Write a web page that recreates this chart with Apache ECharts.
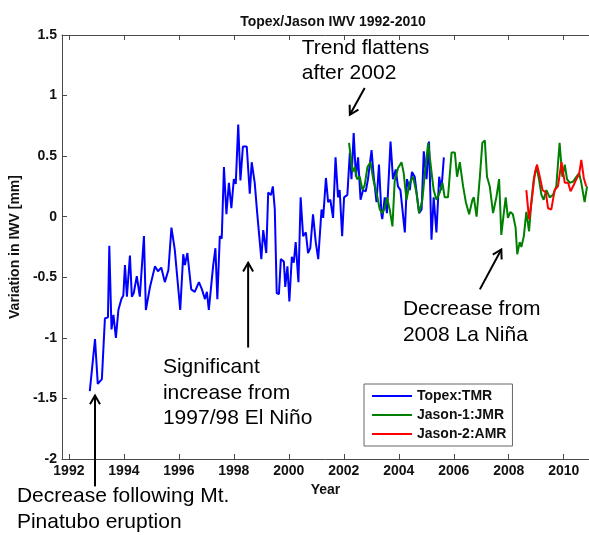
<!DOCTYPE html>
<html><head><meta charset="utf-8">
<script src="https://cdn.jsdelivr.net/npm/echarts@6/dist/echarts.min.js"></script>
<style>html,body{margin:0;padding:0;background:#fff}#c{width:589px;height:535px}</style>
</head><body><div id="c"></div>
<script>
// ---- data ----
const seriesNames = ['Topex:TMR', 'Jason-1:JMR', 'Jason-2:AMR'];

const topexYears = [1992.76,1992.95,1993.05,1993.2,1993.31,1993.42,1993.47,1993.55,1993.62,1993.71,
1993.8,1993.91,1993.98,1994.04,1994.11,1994.22,1994.29,1994.36,1994.47,1994.58,
1994.73,1994.8,1994.95,1995.13,1995.24,1995.36,1995.49,1995.62,1995.73,1995.85,
1996.05,1996.16,1996.22,1996.31,1996.45,1996.58,1996.73,1996.84,1996.95,1997.02,
1997.09,1997.25,1997.33,1997.4,1997.49,1997.56,1997.64,1997.73,1997.82,1997.91,
1998.0,1998.07,1998.16,1998.24,1998.33,1998.47,1998.58,1998.65,1998.76,1998.85,
1999.0,1999.07,1999.18,1999.25,1999.35,1999.42,1999.49,1999.56,1999.64,1999.71,
1999.82,1999.87,1999.95,2000.02,2000.11,2000.18,2000.25,2000.35,2000.43,2000.52,
2000.62,2000.7,2000.78,2000.88,2000.98,2001.07,2001.19,2001.25,2001.35,2001.43,
2001.51,2001.61,2001.7,2001.79,2001.85,2001.94,2002.01,2002.13,2002.22,2002.28,
2002.36,2002.44,2002.52,2002.61,2002.7,2002.8,2002.88,2003.01,2003.09,2003.19,
2003.28,2003.37,2003.4,2003.49,2003.57,2003.7,2003.79,2003.89,2003.97,2004.06,
2004.22,2004.3,2004.4,2004.48,2004.58,2004.67,2004.74,2004.83,2004.91,2005.01,
2005.1,2005.19,2005.27,2005.37,2005.47,2005.55,2005.64];
const topexValues = [-1.44,-1.01,-1.38,-1.34,-0.84,-0.83,-0.24,-0.93,-0.81,-1.0,
-0.77,-0.68,-0.65,-0.40,-0.66,-0.32,-0.66,-0.63,-0.49,-0.66,
-0.16,-0.77,-0.58,-0.41,-0.45,-0.42,-0.54,-0.44,-0.09,-0.27,
-0.77,-0.31,-0.40,-0.30,-0.60,-0.62,-0.54,-0.60,-0.68,-0.62,
-0.77,-0.40,-0.26,-0.68,-0.16,-0.18,0.41,0.02,0.28,0.07,
0.31,0.27,0.76,0.30,0.58,0.58,0.19,0.45,0.28,0.03,
-0.35,-0.11,-0.30,0.20,0.18,0.25,0.06,-0.63,-0.64,-0.35,
-0.37,-0.58,-0.41,-0.70,-0.33,-0.38,-0.21,-0.54,0.16,-0.16,
-0.13,-0.30,-0.26,0.02,-0.21,-0.35,0.06,-0.01,0.32,0.12,
0.14,-0.01,0.49,0.16,0.22,-0.16,0.16,0.18,0.53,0.31,
0.69,0.33,0.49,0.14,0.22,0.21,0.31,0.55,0.33,0.12,
0.43,0.02,-0.02,0.16,0.03,0.62,0.31,0.39,0.25,0.22,
-0.13,0.31,0.22,0.37,0.33,0.16,0.03,0.06,0.54,0.31,
0.62,-0.19,0.16,-0.13,0.33,0.22,0.49];

const jason1Years = [2002.19,2002.32,2002.4,2002.48,2002.58,2002.68,2002.76,2002.86,2002.97,2003.07,
2003.19,2003.31,2003.4,2003.49,2003.57,2003.67,2003.77,2003.85,2003.97,2004.1,
2004.18,2004.28,2004.4,2004.52,2004.64,2004.74,2004.86,2004.95,2005.07,2005.19,
2005.27,2005.37,2005.49,2005.59,2005.67,2005.79,2005.92,2006.04,2006.12,2006.22,
2006.34,2006.44,2006.56,2006.68,2006.73,2006.83,2006.95,2007.04,2007.13,2007.21,
2007.31,2007.43,2007.55,2007.65,2007.73,2007.82,2007.89,2007.97,2008.06,2008.15,
2008.25,2008.31,2008.4,2008.46,2008.55,2008.64,2008.74,2008.83,2008.91,2009.01,
2009.1,2009.19,2009.27,2009.37,2009.49,2009.61,2009.73,2009.85,2009.95,2010.04,
2010.12,2010.22,2010.34,2010.46,2010.56,2010.64,2010.76,2010.85];
const jason1Values = [0.61,0.37,0.41,0.31,0.33,0.22,0.26,0.41,0.45,0.31,
0.20,0.06,0.03,0.07,0.16,0.06,-0.08,0.29,0.40,0.45,
0.36,0.14,0.28,0.33,0.20,0.03,0.14,0.36,0.61,0.37,
0.22,0.14,0.20,0.28,0.16,0.16,0.53,0.53,0.33,0.45,
0.25,0.12,0.02,0.14,0.16,0.0,0.33,0.61,0.63,0.33,
0.25,0.03,0.16,0.31,-0.15,0.03,0.16,-0.01,0.04,0.02,
-0.09,-0.31,-0.21,-0.25,-0.16,0.04,-0.12,0.14,0.31,0.41,
0.31,0.18,0.14,0.22,0.16,0.18,0.25,0.61,0.33,0.43,
0.31,0.28,0.29,0.33,0.36,0.28,0.12,0.25];

const jason2Years = [2008.64,2008.74,2008.84,2008.95,2009.03,2009.13,2009.23,2009.35,2009.43,2009.55,
2009.67,2009.79,2009.92,2010.04,2010.16,2010.25,2010.36,2010.46,2010.56,2010.64,
2010.73,2010.82];
const jason2Values = [0.22,-0.02,0.14,0.36,0.43,0.33,0.22,0.20,0.07,0.06,
0.22,0.25,0.45,0.28,0.28,0.21,0.26,0.31,0.35,0.47,
0.32,0.25];

const xTickLabels = [1992,1994,1996,1998,2000,2002,2004,2006,2008,2010];
const xRange = [1991.75, 2010.92];
const yRange = [-2, 1.5];
const yStep = 0.5;

// annotation anchors in data units (year, value)
const noteTexts = [
  {lines: ['Trend flattens', 'after 2002'], year: 2000.47, value: 1.393},
  {lines: ['Decrease from', '2008 La Niña'], year: 2004.15, value: -0.767},
  {lines: ['Significant', 'increase from', '1997/98 El Niño'], year: 1995.42, value: -1.245},
  {lines: ['Decrease following Mt.', 'Pinatubo eruption'], year: 1990.11, value: -2.308}
];
const noteArrows = [
  {from: [1992.95, -2.226], to: [1992.95, -1.476]},
  {from: [1998.52, -1.08], to: [1998.52, -0.38]},
  {from: [2002.76, 1.063], to: [2002.22, 0.841]},
  {from: [2006.95, -0.60], to: [2007.73, -0.27]}
];

// ---- chart ----
const FONT = '"Liberation Sans", Arial, Helvetica, sans-serif';
const colors = ['#0000ff', '#008000', '#ff0000'];
const pairs = (xs, ys) => xs.map((x, i) => [x, ys[i]]);
const chart = echarts.init(document.getElementById('c'), null, {renderer: 'canvas'});

const axisLineStyle = {color: '#4a4a4a', width: 1};
const seriesData = [pairs(topexYears, topexValues), pairs(jason1Years, jason1Values), pairs(jason2Years, jason2Values)];

chart.setOption({
  animation: false,
  backgroundColor: '#fff',
  title: {
    text: 'Topex/Jason IWV 1992-2010', left: 328, top: 10, textAlign: 'center',
    textStyle: {fontFamily: FONT, fontSize: 14, fontWeight: 'bold', color: '#111'}
  },
  grid: {left: 62, top: 35, right: 0, bottom: 76},
  legend: {
    orient: 'vertical', left: 364, top: 384,
    data: seriesNames, icon: 'rect', itemWidth: 40, itemHeight: 2, itemGap: 5,
    padding: [5, 6, 5, 8], borderColor: '#666', borderWidth: 1, backgroundColor: '#fff',
    textStyle: {fontFamily: FONT, fontSize: 14, fontWeight: 'bold', color: '#111'}
  },
  xAxis: [{
    type: 'value', min: xRange[0], max: xRange[1], position: 'bottom',
    name: 'Year', nameLocation: 'middle', nameGap: 15,
    nameTextStyle: {fontFamily: FONT, fontSize: 14, fontWeight: 'bold', color: '#111'},
    axisLine: {show: true, onZero: false, lineStyle: axisLineStyle},
    axisTick: {show: true, inside: true, length: 5, customValues: xTickLabels, lineStyle: axisLineStyle},
    axisLabel: {show: true, customValues: xTickLabels, margin: 5, formatter: v => String(Math.round(v)),
      fontFamily: FONT, fontSize: 14, fontWeight: 'bold', color: '#111'},
    splitLine: {show: false}
  }, {
    type: 'value', min: xRange[0], max: xRange[1], position: 'top',
    axisLine: {show: true, onZero: false, lineStyle: axisLineStyle},
    axisTick: {show: true, inside: true, length: 5, customValues: xTickLabels, lineStyle: axisLineStyle},
    axisLabel: {show: false},
    splitLine: {show: false}
  }],
  yAxis: {
    type: 'value', min: yRange[0], max: yRange[1], interval: yStep,
    name: 'Variation in IWV [mm]', nameLocation: 'middle', nameGap: 31, nameRotate: 90,
    nameTextStyle: {fontFamily: FONT, fontSize: 14, fontWeight: 'bold', color: '#111'},
    axisLine: {show: true, onZero: false, lineStyle: axisLineStyle},
    axisTick: {show: true, inside: true, length: 5, lineStyle: axisLineStyle},
    axisLabel: {margin: 5, fontFamily: FONT, fontSize: 14, fontWeight: 'bold', color: '#111'},
    splitLine: {show: false}
  },
  series: seriesNames.map((name, i) => ({
    name, type: 'line', xAxisIndex: 0, yAxisIndex: 0,
    data: seriesData[i], showSymbol: false, symbol: 'none',
    lineStyle: {width: 2, color: colors[i]}, itemStyle: {color: colors[i]},
    z: 2 + i
  }))
});

// ---- annotations placed from data-unit anchors ----
const toPx = (p) => chart.convertToPixel({xAxisIndex: 0, yAxisIndex: 0}, p);
const graphics = [];
const LINE_STEP = 25.5;
noteTexts.forEach(n => {
  const p = toPx([n.year, n.value]);
  n.lines.forEach((t, i) => {
    graphics.push({
      type: 'text', x: p[0], y: p[1] + i * LINE_STEP, z: 100,
      style: {text: t, font: '21px ' + FONT, fill: '#000', textAlign: 'left', textVerticalAlign: 'middle'}
    });
  });
});
noteArrows.forEach(a => {
  const p1 = toPx(a.from), p2 = toPx(a.to);
  const ang = Math.atan2(p2[1] - p1[1], p2[0] - p1[0]);
  const L = 10, w = Math.PI / 6;
  const h1 = [p2[0] - L * Math.cos(ang - w), p2[1] - L * Math.sin(ang - w)];
  const h2 = [p2[0] - L * Math.cos(ang + w), p2[1] - L * Math.sin(ang + w)];
  graphics.push({type: 'line', z: 100, shape: {x1: p1[0], y1: p1[1], x2: p2[0], y2: p2[1]}, style: {stroke: '#000', lineWidth: 2}});
  graphics.push({type: 'polyline', z: 100, shape: {points: [h1, p2, h2]}, style: {stroke: '#000', lineWidth: 2, fill: null}});
});
chart.setOption({graphic: graphics});
</script>
</body></html>
